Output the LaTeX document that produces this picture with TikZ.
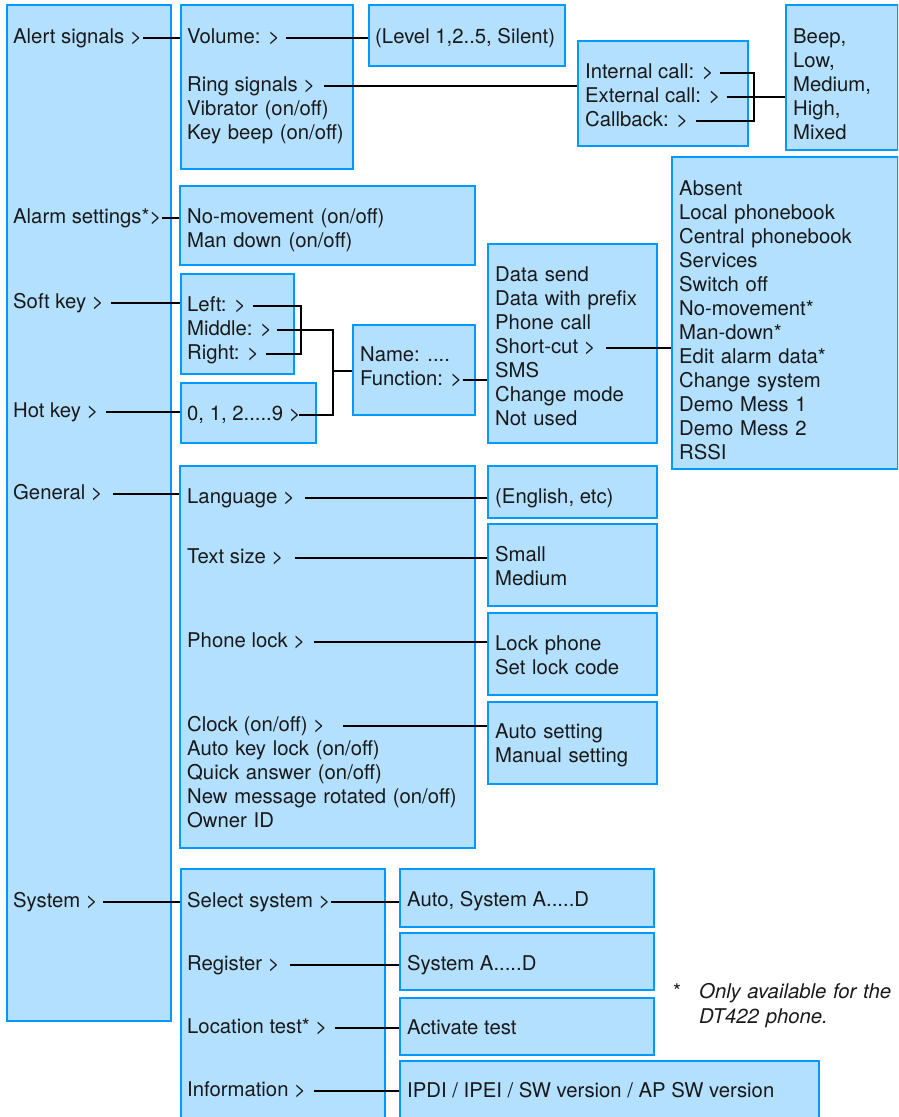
\documentclass[tikz,border=0pt]{standalone}
\usepackage{fontspec}
\setmainfont{TeX Gyre Heros}
\definecolor{boxfill}{RGB}{179,224,255}
\definecolor{boxline}{RGB}{0,153,255}
\definecolor{ink}{RGB}{25,25,25}
\tikzset{
  box/.style={draw=boxline, fill=boxfill, line width=2.4pt, inner sep=0pt, anchor=north west},
  txt/.style={anchor=base west, inner sep=0pt, text=ink, font=\fontsize{20.3}{24}\selectfont},
  mtxt/.style={txt, text width=320pt, align=left},
  conn/.style={draw=black, line width=1.8pt},
}
\newcommand{\mybox}[5]{\node[box, minimum width={#4-#2}, minimum height={#5-#3}] (#1) at (#2,#3) {};}
\newcommand{\conn}[3]{\draw[conn] ([xshift=#3pt,yshift=5pt]#1.base east) coordinate (c#1) -- (c#1 -| #2.west);}
\begin{document}
\begin{tikzpicture}[x=1pt,y=-1pt]
\useasboundingbox (0,0) rectangle (898,1117);
\clip (0,0) rectangle (898,1117);
% boxes
\mybox{main}{6}{4}{170}{1020}
\mybox{vol}{180}{4}{352}{168}
\mybox{lvl}{368}{4}{564}{65}
\mybox{ringbox}{577}{40}{747}{145}
\mybox{beep}{785}{4}{897}{149}
\mybox{alarm}{179}{185}{474}{264}
\mybox{soft}{180}{273}{293}{373}
\mybox{hot}{180}{382}{315}{442}
\mybox{name}{352}{324}{474}{414}
\mybox{func}{487}{243}{656}{442}
\mybox{short}{671}{156}{897}{468}
\mybox{gen}{179}{465}{474}{847}
\mybox{eng}{487}{465}{656}{517}
\mybox{size}{487}{523}{656}{605}
\mybox{lock}{487}{612}{656}{694}
\mybox{clock}{487}{701}{656}{783}
\mybox{sys}{180}{868}{384}{1140}
\mybox{sel}{399}{868}{653}{926}
\mybox{reg}{399}{932}{653}{989}
\mybox{loc}{399}{997}{653}{1054}
\mybox{info}{399}{1060}{818}{1140}
% main column
\node[txt] (talert) at (13,43) {Alert signals >};
\node[txt] (talarm) at (13,223) {Alarm settings*>};
\node[txt] (tsoft) at (13,308) {Soft key >};
\node[txt] (thot) at (13,417) {Hot key >};
\node[txt] (tgen) at (13,499) {General >};
\node[txt] (tsys) at (13,907) {System >};
% alert signals
\node[txt] (tvol) at (187,43) {Volume: >};
\node[txt] (tring) at (187,91) {Ring signals >};
\node[mtxt] (tvib) at (187,115) {Vibrator (on/off)\\Key beep (on/off)};
\node[txt] (tlvl) at (375,43) {(Level 1,2..5, Silent)};
\node[txt] (tint) at (585,78) {Internal call: >};
\node[txt] (text) at (585,102) {External call: >};
\node[txt] (tcb) at (585,126) {Callback: >};
\node[mtxt] (tbeep) at (793,43) {Beep,\\Low,\\Medium,\\High,\\Mixed};
% alarm
\node[mtxt] (tnomov) at (187,223) {No-movement (on/off)\\Man down (on/off)};
% soft / hot keys
\node[txt] (tleft) at (187,311) {Left: >};
\node[txt] (tmid) at (187,335) {Middle: >};
\node[txt] (tright) at (187,359) {Right: >};
\node[txt] (tdig) at (187,420) {0, 1, 2.....9 >};
\node[txt] (tname) at (360,361) {Name: ....};
\node[txt] (tfunc) at (360,385) {Function: >};
\node[mtxt] (tdata) at (495,281) {Data send\\Data with prefix\\Phone call};
\node[txt] (tshort) at (495,353) {Short-cut >};
\node[mtxt] (tsms) at (495,377) {SMS\\Change mode\\Not used};
\node[mtxt] (tabs) at (679,195) {Absent\\Local phonebook\\Central phonebook\\Services\\Switch off\\No-movement*\\Man-down*\\Edit alarm data*\\Change system\\Demo Mess 1\\Demo Mess 2\\RSSI};
% general
\node[txt] (tlang) at (187,503) {Language >};
\node[txt] (tsize) at (187,563) {Text size >};
\node[txt] (tlock) at (187,647) {Phone lock >};
\node[txt] (tclock) at (187,731) {Clock (on/off) >};
\node[mtxt] (tmore) at (187,755) {Auto key lock (on/off)\\Quick answer (on/off)\\New message rotated (on/off)\\Owner ID};
\node[txt] (teng) at (495,503) {(English, etc)};
\node[mtxt] (tsmall) at (495,561) {Small\\Medium};
\node[mtxt] (tlockph) at (495,650) {Lock phone\\Set lock code};
\node[mtxt] (tauto) at (495,738) {Auto setting\\Manual setting};
% system
\node[txt] (tsel) at (187,907) {Select system >};
\node[txt] (treg) at (187,970) {Register >};
\node[txt] (tloc) at (187,1033) {Location test* >};
\node[txt] (tinfo) at (187,1096) {Information >};
\node[txt] (tselv) at (407,906) {Auto, System A.....D};
\node[txt] (tregv) at (407,970) {System A.....D};
\node[txt] (tlocv) at (407,1034) {Activate test};
\node[txt] (tinfov) at (407,1097) {IPDI / IPEI / SW version / AP SW version};
% footnote
\node[txt] (fstar) at (673,998) {*};
\node[mtxt, font=\fontsize{20.3}{25}\selectfont\itshape] (fnote) at (699,998) {Only available for the\\DT422 phone.};
% connectors
\conn{talert}{vol}{1}
\conn{tvol}{lvl}{6}
\conn{tring}{ringbox}{9}
\coordinate (jr) at (754,97);
\draw[conn] ([xshift=6pt,yshift=5pt]tint.base east) -| (jr) |- ([xshift=8pt,yshift=5pt]tcb.base east);
\conn{text}{beep}{6}
\conn{talarm}{alarm}{0}
\conn{tsoft}{soft}{7}
\conn{thot}{hot}{7}
\coordinate (js) at (301,331);
\draw[conn] ([xshift=7pt,yshift=5pt]tleft.base east) -| (js) |- ([xshift=7pt,yshift=5pt]tright.base east);
\coordinate (jm) at (333,371);
\draw[conn] ([xshift=5pt,yshift=5pt]tmid.base east) -| (jm) -- (jm -| name.west);
\draw[conn] ([xshift=-2pt,yshift=5pt]tdig.base east) -| (jm);
\conn{tfunc}{func}{0}
\conn{tshort}{short}{10}
\conn{tgen}{gen}{10}
\conn{tlang}{eng}{10}
\conn{tsize}{size}{11}
\conn{tlock}{lock}{9}
\conn{tclock}{clock}{18}
\conn{tsys}{sys}{5}
\conn{tsel}{sel}{0}
\conn{treg}{reg}{10}
\conn{tloc}{loc}{8}
\conn{tinfo}{info}{8}
\end{tikzpicture}
\end{document}
